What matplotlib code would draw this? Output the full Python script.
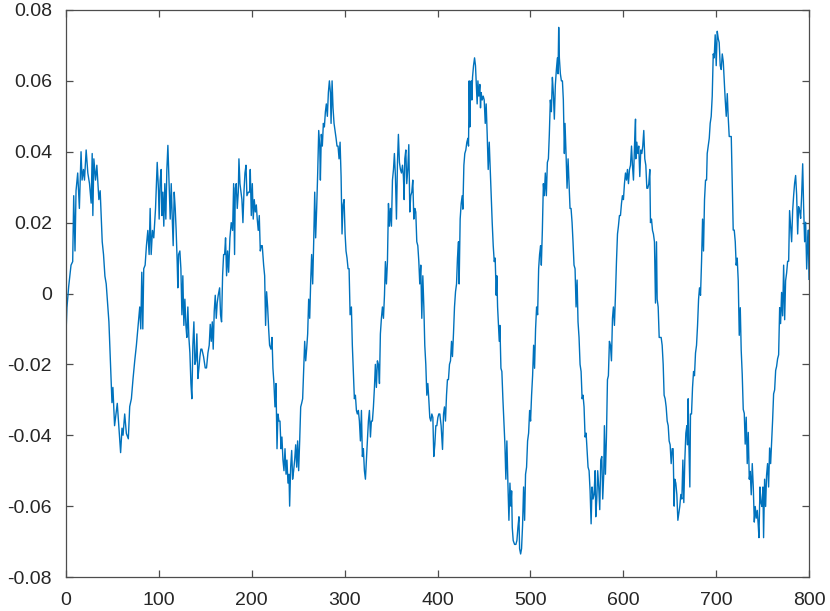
import matplotlib
matplotlib.use("Agg")
import matplotlib.pyplot as plt
import numpy as np

# Samples: (sample index, value)
seg_000_100 = [
    (0, -0.0114), (1, -0.004), (2.9, 0.002), (5.4, 0.008), (7.2, 0.009), (8.3, 0.0276), (9.7, 0.012),
    (10.8, 0.029), (12.6, 0.034), (14.4, 0.024), (16.2, 0.040), (17.3, 0.032), (18.8, 0.035), (19.9, 0.032),
    (21.7, 0.0405), (23.5, 0.034), (25.3, 0.031), (27.1, 0.0255), (28.2, 0.0395), (28.9, 0.022), (30, 0.038),
    (31.8, 0.032), (33.2, 0.0362), (35.4, 0.0265), (36.8, 0.029), (39, 0.0146), (40.4, 0.011), (41.9, 0.0049),
    (43.3, 0.0027), (45.1, -0.0038), (46.2, -0.008), (47.6, -0.0178), (49.5, -0.0308), (50.5, -0.0265),
    (52.3, -0.0373), (54.2, -0.033), (55.2, -0.031), (57, -0.038), (58.8, -0.0449), (60.3, -0.038),
    (61.4, -0.040), (63.2, -0.034), (65, -0.0395), (67.1, -0.041), (68.6, -0.0319), (70.4, -0.0297),
    (72.2, -0.024), (74, -0.019), (75.8, -0.0146), (76.9, -0.0114), (78.3, -0.007), (79.4, -0.0038),
    (80.5, -0.010), (81.6, 0.006), (82.7, -0.010), (83.7, 0.007), (85.2, 0.008), (86.6, 0.0135),
    (88.1, 0.0178), (89.5, 0.011), (90.6, 0.024), (91.7, 0.011), (93.1, 0.0178), (94.5, 0.0157),
    (96.4, 0.024), (98.2, 0.037), (99.6, 0.029),
]

seg_100_200 = [
    (100.3, 0.021), (101.4, 0.032), (102.5, 0.035), (103.2, 0.022), (104.3, 0.0286), (105.3, 0.019),
    (106.4, 0.031), (107.5, 0.021), (108.6, 0.035), (109.7, 0.0418), (111.1, 0.0297), (112.2, 0.021),
    (113.3, 0.031), (114.3, 0.022), (115.4, 0.0135), (116.5, 0.0286), (117.6, 0.024), (118.6, 0.0178),
    (119.7, 0.009), (120.4, 0.0016), (121.2, 0.011), (122.6, 0.012), (123.7, 0.007), (124.8, -0.006),
    (125.8, 0.005), (126.9, -0.009), (128, -0.0016), (129.1, -0.009), (130.1, -0.0124), (131.2, -0.0038),
    (132.3, -0.0124), (133.4, -0.0168), (134.5, -0.0254), (135.5, -0.0297), (136.6, -0.0146),
    (137.7, -0.008), (138.8, -0.020), (139.8, -0.019), (140.9, -0.0114), (142, -0.024), (143.1, -0.0211),
    (144.2, -0.0178), (145.2, -0.0157), (146.3, -0.0157), (148.1, -0.0178), (149.9, -0.021),
    (151.3, -0.021), (152.8, -0.0168), (154.2, -0.0146), (155.3, -0.0087), (156.4, -0.0135),
    (157.5, -0.008), (158.5, -0.0157), (159.6, -0.005), (160.7, -0.0005), (161.8, -0.007),
    (162.8, -0.0027), (163.9, -0.0005), (165.4, 0.0016), (166.4, -0.006), (167.5, -0.008), (168.6, 0.005),
    (169.7, 0.011), (170.8, 0.011), (171.8, 0.0157), (172.9, 0.005), (174, 0.012), (175.1, 0.006),
    (176.5, 0.0157), (177.9, 0.020), (179.4, 0.0178), (180.5, 0.031), (181.5, 0.011), (182.3, 0.0297),
    (183.3, 0.031), (184.4, 0.024), (185.5, 0.0286), (186.2, 0.038), (187.3, 0.031), (188.4, 0.0286),
    (189.4, 0.0265), (190.5, 0.020), (191.6, 0.0286), (192.7, 0.034), (193.8, 0.0362), (194.8, 0.0276),
    (196.3, 0.0286), (197.7, 0.0286),
]

seg_200_300 = [
    (198.4, 0.035), (199.5, 0.022), (200.6, 0.031), (201.6, 0.021), (202.7, 0.0265), (203.8, 0.023),
    (204.9, 0.025), (205.9, 0.021), (207.0, 0.0178), (208.1, 0.022), (209.2, 0.012), (210.3, 0.0135),
    (211.3, 0.0135), (212.8, 0.008), (213.9, 0.005), (214.9, -0.009), (216.0, 0.0005), (217.1, -0.0038),
    (218.2, -0.010), (219.2, -0.0146), (220.7, -0.0157), (221.8, -0.0124), (222.8, -0.0211),
    (223.9, -0.0254), (225.0, -0.032), (226.1, -0.0254), (227.2, -0.0438), (228.2, -0.034),
    (229.3, -0.036), (230.4, -0.036), (231.5, -0.0438), (232.5, -0.0405), (233.6, -0.047),
    (234.7, -0.050), (235.8, -0.0438), (236.9, -0.051), (237.9, -0.047), (239.0, -0.0535),
    (240.1, -0.051), (240.8, -0.060), (241.9, -0.049), (243.0, -0.0443), (244.0, -0.0524),
    (245.1, -0.050), (246.2, -0.047), (247.3, -0.0427), (248.4, -0.049), (249.4, -0.0416),
    (250.5, -0.050), (251.6, -0.0416), (252.7, -0.032), (253.7, -0.031), (254.8, -0.0297),
    (255.9, -0.022), (257.0, -0.0135), (258.1, -0.019), (259.1, -0.0157), (260.2, -0.0114),
    (261.3, -0.0016), (262.4, -0.007), (263.5, 0.0038), (264.5, 0.011), (265.6, 0.0027), (266.7, 0.0146),
    (267.8, 0.0286), (268.8, 0.0157), (269.9, 0.024), (271.0, 0.034), (272.1, 0.046), (273.2, 0.0416),
    (273.9, 0.032), (274.9, 0.0449), (276.0, 0.0416), (277.1, 0.048), (278.2, 0.047), (279.3, 0.0513),
    (280.3, 0.0535), (281.4, 0.050), (282.5, 0.0567), (283.6, 0.060), (284.7, 0.0567), (285.4, 0.048),
    (286.5, 0.060), (287.5, 0.0524), (288.6, 0.048), (289.7, 0.046), (290.8, 0.0438), (291.8, 0.0416),
    (292.9, 0.0416), (294.0, 0.038), (295.1, 0.0427), (296.2, 0.033), (297.2, 0.0168), (298.3, 0.025),
    (299.4, 0.0265),
]

seg_300_400 = [
    (300.5, 0.0168), (301.5, 0.012), (302.6, 0.010), (303.7, 0.007), (304.8, 0.007), (305.9, -0.006),
    (307.3, -0.0038), (308.3, -0.0146), (309.4, -0.022), (310.5, -0.0297), (311.6, -0.0287),
    (312.7, -0.033), (313.7, -0.034), (314.8, -0.033), (315.9, -0.036), (317.0, -0.0416), (318.1, -0.033),
    (319.1, -0.046), (320.2, -0.0438), (321.3, -0.050), (322.4, -0.0524), (323.4, -0.047),
    (324.5, -0.0416), (325.6, -0.036), (326.7, -0.033), (327.8, -0.0405), (328.8, -0.036),
    (329.9, -0.036), (331.0, -0.032), (332.1, -0.0265), (333.1, -0.020), (334.2, -0.0265),
    (335.3, -0.019), (336.4, -0.020), (337.5, -0.0254), (338.5, -0.0114), (339.6, -0.007),
    (340.7, -0.0038), (341.8, -0.007), (342.9, -0.0005), (343.9, 0.009), (345.0, 0.0027), (346.1, 0.009),
    (347.2, 0.0254), (348.2, 0.019), (349.3, 0.024), (350.4, 0.019), (351.5, 0.032), (352.6, 0.035),
    (353.6, 0.0395), (354.7, 0.033), (355.8, 0.021), (356.9, 0.037), (357.9, 0.0449), (359.0, 0.037),
    (360.1, 0.035), (361.2, 0.034), (362.3, 0.0362), (363.3, 0.033), (364.1, 0.0265), (364.8, 0.038),
    (365.9, 0.0405), (366.9, 0.031), (368.0, 0.035), (369.1, 0.042), (370.2, 0.023), (371.2, 0.0276),
    (372.3, 0.0286), (373.4, 0.032), (374.5, 0.021), (375.6, 0.024), (376.6, 0.023), (377.7, 0.0146),
    (378.8, 0.0135), (379.9, 0.009), (380.9, 0.0027), (382.0, 0.008), (383.1, -0.007), (384.2, 0.005),
    (385.3, -0.0038), (386.3, -0.0146), (387.4, -0.020), (388.5, -0.0287), (389.6, -0.0254),
    (390.6, -0.0297), (391.7, -0.035), (392.8, -0.036), (393.9, -0.034), (395.0, -0.035),
    (396.0, -0.046), (397.1, -0.0427), (398.2, -0.0373), (399.3, -0.0373),
]

seg_400_500 = [
    (400.4, -0.035), (401.4, -0.034), (402.5, -0.034), (403.9, -0.0373), (405.4, -0.044), (406.5, -0.034),
    (407.5, -0.032), (408.6, -0.036), (409.7, -0.0287), (410.7, -0.0243), (411.8, -0.0243),
    (412.9, -0.020), (414.0, -0.019), (415.1, -0.0135), (416.1, -0.0178), (417.2, -0.0114),
    (418.3, -0.0038), (419.4, 0.0005), (420.5, 0.0027), (421.5, 0.010), (422.6, 0.0146), (423.3, 0.0027),
    (424.4, 0.021), (425.5, 0.0254), (426.6, 0.0276), (427.3, 0.0238), (428.4, 0.0362), (429.4, 0.0395),
    (430.5, 0.0405), (431.6, 0.0427), (432.7, 0.0438), (433.4, 0.0416), (434.1, 0.060), (434.8, 0.047),
    (435.5, 0.0567), (436.3, 0.060), (437.0, 0.0546), (437.7, 0.061), (438.8, 0.0643), (439.9, 0.0665),
    (440.9, 0.0643), (442.0, 0.0578), (442.7, 0.0535), (443.5, 0.060), (444.5, 0.0557), (445.6, 0.059),
    (446.3, 0.0524), (447.0, 0.0567), (448.1, 0.0546), (449.2, 0.0557), (450.3, 0.0546), (451.4, 0.048),
    (452.4, 0.0535), (453.5, 0.0449), (454.6, 0.035), (455.7, 0.0427), (456.8, 0.035), (457.8, 0.0276),
    (458.9, 0.020), (460.0, 0.0135), (461.1, 0.009), (462.1, 0.010), (463.2, -0.0005), (463.9, 0.005),
    (464.7, -0.0038), (465.7, -0.009), (466.5, -0.0135), (467.2, -0.009), (468.3, -0.0211),
    (469.3, -0.022), (470.4, -0.0297), (471.5, -0.036), (472.6, -0.0427), (473.6, -0.0524),
    (474.7, -0.0416), (475.8, -0.0535), (476.9, -0.064), (478.0, -0.0535), (479.0, -0.060),
    (479.8, -0.0557), (480.5, -0.066), (481.5, -0.0697), (483.0, -0.0708), (484.4, -0.0708),
    (485.5, -0.0697), (486.6, -0.066), (487.7, -0.063), (488.4, -0.072), (489.5, -0.0735),
    (490.5, -0.072), (491.6, -0.0654), (492.7, -0.0546), (493.8, -0.064), (494.8, -0.051),
    (495.9, -0.049), (497.0, -0.0416), (498.1, -0.0394), (499.2, -0.033),
]

seg_500_600 = [
    (500.2, -0.036), (501.3, -0.0287), (502.4, -0.0232), (503.5, -0.0146), (504.5, -0.0211),
    (505.6, -0.010), (506.7, -0.0038), (507.8, -0.006), (508.9, 0.007), (509.9, 0.011), (511.0, 0.0135),
    (511.8, 0.008), (512.9, 0.0178), (514.0, 0.031), (515.0, 0.0276), (516.1, 0.034), (517.2, 0.0276),
    (518.3, 0.037), (519.4, 0.038), (520.4, 0.0449), (521.5, 0.0546), (522.6, 0.0513), (523.7, 0.061),
    (524.7, 0.0567), (525.8, 0.0492), (526.9, 0.0589), (528.0, 0.0632), (529.1, 0.0665), (529.8, 0.062),
    (530.5, 0.0751), (531.2, 0.0665), (532.3, 0.062), (533.4, 0.060), (534.5, 0.060), (535.5, 0.0546),
    (536.6, 0.0395), (537.3, 0.048), (538.4, 0.0395), (539.5, 0.0297), (540.6, 0.038), (541.6, 0.031),
    (542.7, 0.024), (543.8, 0.024), (544.9, 0.020), (545.9, 0.0146), (547.0, 0.008), (548.1, 0.007),
    (549.2, -0.0038), (550.3, 0.0038), (551.3, -0.008), (552.4, -0.0124), (553.5, -0.020),
    (554.6, -0.022), (555.7, -0.0297), (556.7, -0.0287), (557.8, -0.032), (558.9, -0.0405),
    (560.0, -0.0394), (561.0, -0.0438), (562.1, -0.049), (563.2, -0.050), (564.3, -0.0557),
    (565.4, -0.065), (566.4, -0.0546), (567.5, -0.058), (568.6, -0.0567), (569.7, -0.050),
    (570.4, -0.063), (571.5, -0.058), (572.5, -0.050), (573.6, -0.0546), (574.7, -0.061),
    (575.8, -0.047), (576.9, -0.046), (577.9, -0.058), (579.0, -0.051), (579.7, -0.0373),
    (580.8, -0.051), (581.9, -0.0405), (583.0, -0.0243), (584.0, -0.0232), (585.1, -0.0135),
    (586.2, -0.0146), (587.3, -0.019), (588.4, -0.007), (589.4, -0.0038), (590.5, -0.009),
    (591.6, -0.0005), (592.7, 0.009), (593.8, 0.0168), (594.8, 0.019), (595.9, 0.022), (597.0, 0.022),
    (598.1, 0.0254), (599.1, 0.0276),
]

seg_600_700 = [
    (600.2, 0.0265), (601.3, 0.031), (602.4, 0.034), (603.5, 0.032), (604.5, 0.035), (605.6, 0.031),
    (606.7, 0.035), (607.8, 0.0362), (608.9, 0.0416), (609.9, 0.0362), (611.0, 0.032), (612.1, 0.0416),
    (613.2, 0.0492), (613.5, 0.038), (614.6, 0.0427), (615.6, 0.0395), (616.7, 0.0416), (617.8, 0.033),
    (618.9, 0.0405), (620.0, 0.0395), (621.0, 0.0416), (622.1, 0.046), (623.2, 0.038), (624.3, 0.0362),
    (625.4, 0.0297), (626.4, 0.0297), (627.5, 0.031), (628.6, 0.035), (629.3, 0.020), (630.4, 0.021),
    (631.5, 0.0178), (632.5, 0.0168), (633.6, 0.0146), (634.7, -0.0027), (635.8, 0.0146),
    (636.5, -0.0016), (637.6, -0.0038), (638.7, -0.0124), (639.7, -0.0124), (640.8, -0.0124),
    (641.9, -0.0146), (643.0, -0.020), (644.0, -0.0287), (645.1, -0.0297), (646.2, -0.032),
    (647.3, -0.036), (648.4, -0.0373), (649.4, -0.0416), (650.5, -0.0427), (651.6, -0.048),
    (652.7, -0.0438), (653.7, -0.0438), (654.8, -0.060), (655.5, -0.0524), (656.6, -0.0535),
    (657.7, -0.0567), (658.8, -0.064), (659.9, -0.062), (660.9, -0.060), (662.0, -0.0567),
    (663.1, -0.058), (664.2, -0.047), (665.2, -0.059), (666.3, -0.047), (667.4, -0.0394),
    (668.5, -0.0373), (669.2, -0.0427), (669.9, -0.0297), (670.6, -0.0416), (671.7, -0.0546),
    (672.4, -0.034), (673.5, -0.034), (674.6, -0.0265), (675.7, -0.022), (676.7, -0.0232),
    (677.8, -0.0168), (678.9, -0.0146), (680.0, -0.009), (681.1, -0.0016), (682.1, 0.0016),
    (683.2, -0.0005), (684.3, 0.009), (685.4, 0.021), (686.4, 0.012), (687.5, 0.0265), (688.6, 0.032),
    (689.7, 0.032), (690.4, 0.0395), (691.5, 0.0416), (692.6, 0.0438), (693.6, 0.048), (694.7, 0.050),
    (695.8, 0.0557), (696.9, 0.0676), (697.9, 0.0665), (699.0, 0.073),
]

seg_700_800 = [
    (700.1, 0.0643), (701.2, 0.074), (702.3, 0.0719), (703.3, 0.0708), (704.4, 0.0643), (705.5, 0.0632),
    (706.6, 0.0676), (707.7, 0.0654), (708.7, 0.060), (709.8, 0.0546), (710.9, 0.050), (712.0, 0.0564),
    (713.0, 0.0498), (714.1, 0.0443), (715.2, 0.0443), (716.3, 0.0443), (717.3, 0.0322), (718.4, 0.0179),
    (719.5, 0.0179), (720.6, 0.0146), (721.6, 0.008), (722.7, 0.010), (723.8, 0.0036), (724.9, -0.0118),
    (726.0, -0.004), (727.0, -0.016), (728.1, -0.0228), (729.2, -0.0327), (730.3, -0.0338),
    (731.3, -0.0425), (732.4, -0.0349), (733.5, -0.048), (734.6, -0.0392), (735.7, -0.0524),
    (736.7, -0.0502), (737.8, -0.0568), (738.9, -0.048), (740.0, -0.0546), (741.1, -0.0645),
    (742.1, -0.0601), (743.2, -0.0634), (744.3, -0.0612), (745.4, -0.0656), (746.1, -0.0689),
    (747.2, -0.0546), (748.2, -0.059), (749.3, -0.0601), (750.4, -0.0546), (751.1, -0.0689),
    (752.2, -0.0524), (753.3, -0.0601), (754.3, -0.0513), (755.4, -0.048), (756.5, -0.0546),
    (757.6, -0.0436), (758.7, -0.048), (759.7, -0.0425), (760.8, -0.0359), (761.9, -0.0283),
    (763.0, -0.0272), (764.1, -0.0217), (765.1, -0.0206), (766.2, -0.0184), (767.3, -0.0173),
    (768.4, -0.004), (769.4, -0.0085), (770.5, 0.0003), (771.6, -0.0063), (772.7, 0.008),
    (773.8, -0.0074), (774.8, 0.0036), (775.9, 0.0058), (777.0, 0.0091), (778.1, 0.0091),
    (779.1, 0.0234), (780.2, 0.019), (781.3, 0.0146), (782.4, 0.0234), (783.5, 0.0278), (784.5, 0.0311),
    (785.6, 0.0333), (786.7, 0.0278), (787.8, 0.0168), (788.8, 0.0245), (789.9, 0.0234), (791.0, 0.0212),
    (792.1, 0.0278), (793.2, 0.0366), (794.2, 0.0245), (795.3, 0.0146), (796.4, 0.0201), (797.5, 0.0069),
    (798.6, 0.0146), (799.3, 0.0179), (800.0, 0.004),
]

x_ticks = [0, 100, 200, 300, 400, 500, 600, 700, 800]
y_ticks = [-0.08, -0.06, -0.04, -0.02, 0, 0.02, 0.04, 0.06, 0.08]
y_tick_labels = ["-0.08", "-0.06", "-0.04", "-0.02", "0", "0.02", "0.04", "0.06", "0.08"]

segments = [seg_000_100, seg_100_200, seg_200_300, seg_300_400,
            seg_400_500, seg_500_600, seg_600_700, seg_700_800]
pts = [p for seg in segments for p in seg]
xs = np.array([p[0] for p in pts])
ys = np.array([p[1] for p in pts])

plt.rcParams['font.family'] = ['Liberation Sans', 'DejaVu Sans']
plt.rcParams['axes.unicode_minus'] = False

fig = plt.figure(figsize=(8.30, 6.11), dpi=100)
ax = fig.add_axes([66/830, (611-577)/611, 743/830, 567/611])
ax.plot(xs, ys, color='#0072BD', linewidth=1.0)

ax.set_xlim(0, 800)
ax.set_ylim(-0.08, 0.08)
ax.set_xticks(x_ticks)
ax.set_xticklabels([str(t) for t in x_ticks])
ax.set_yticks(y_ticks)
ax.set_yticklabels(y_tick_labels)

spine_col = '#4d4d4d'
for s in ax.spines.values():
    s.set_color(spine_col)
    s.set_linewidth(0.9)
ax.tick_params(direction='in', length=5, width=0.9, color=spine_col,
               top=True, right=True, labelsize=14, labelcolor='#262626')
ax.tick_params(axis='y', pad=10)
ax.tick_params(axis='x', pad=11)

fig.savefig('out.png', dpi=100)
